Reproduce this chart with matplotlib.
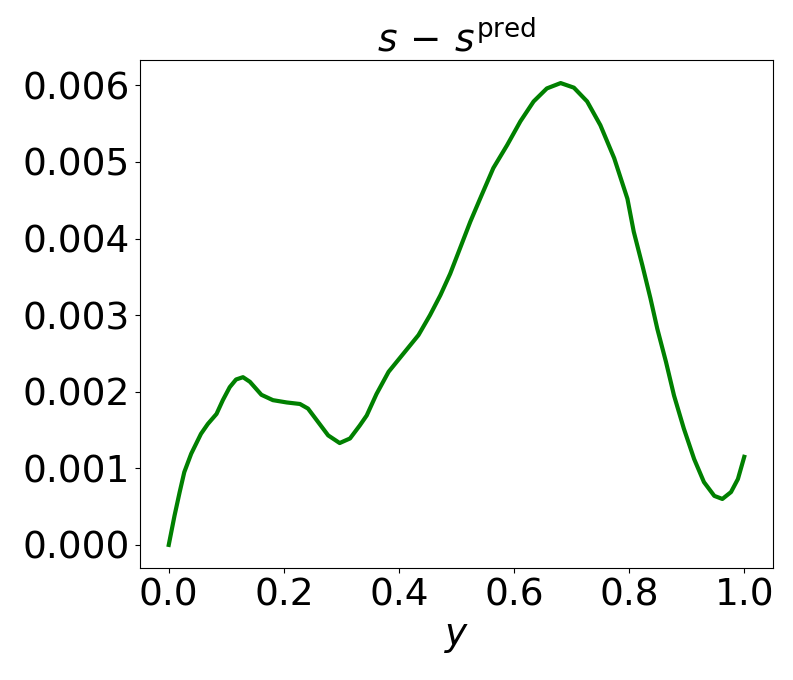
import matplotlib
matplotlib.use("Agg")
import matplotlib.pyplot as plt

y_vals = [0.000, 0.010, 0.019, 0.027, 0.039, 0.056, 0.068, 0.083, 0.094, 0.106,
          0.117, 0.129, 0.141, 0.161, 0.181, 0.205, 0.228, 0.242, 0.260, 0.277,
          0.297, 0.315, 0.332, 0.344, 0.361, 0.382, 0.408, 0.434, 0.454, 0.472,
          0.489, 0.506, 0.524, 0.541, 0.564, 0.588, 0.611, 0.634, 0.657, 0.681,
          0.704, 0.727, 0.750, 0.774, 0.797, 0.808, 0.823, 0.837, 0.849, 0.864,
          0.878, 0.895, 0.913, 0.930, 0.948, 0.962, 0.977, 0.989, 1.000]
diff_vals = [0.00000, 0.00038, 0.00069, 0.00095, 0.00119, 0.00145, 0.00158, 0.00171,
             0.00189, 0.00206, 0.00216, 0.00219, 0.00213, 0.00196, 0.00189, 0.00186,
             0.00184, 0.00178, 0.00160, 0.00143, 0.00133, 0.00139, 0.00156, 0.00169,
             0.00197, 0.00226, 0.00250, 0.00274, 0.00300, 0.00326, 0.00354, 0.00387,
             0.00422, 0.00452, 0.00492, 0.00522, 0.00553, 0.00579, 0.00596, 0.00603,
             0.00597, 0.00579, 0.00548, 0.00505, 0.00452, 0.00409, 0.00365, 0.00322,
             0.00282, 0.00239, 0.00195, 0.00152, 0.00112, 0.00082, 0.00064, 0.00060,
             0.00069, 0.00086, 0.00115]

xticks = [0.0, 0.2, 0.4, 0.6, 0.8, 1.0]
yticks = [0.0, 0.001, 0.002, 0.003, 0.004, 0.005, 0.006]
ytick_labels = ["0.000", "0.001", "0.002", "0.003", "0.004", "0.005", "0.006"]

fig = plt.figure(figsize=(7.93, 6.8), dpi=100)
ax = fig.add_axes([0.1765, 0.1647, 0.7983, 0.7471])
ax.plot(y_vals, diff_vals, color="green", lw=3)
ax.set_title(r"$s\,-\,s^{\mathrm{pred}}$", fontsize=27)
ax.set_xlabel(r"$y$", fontsize=27)
ax.tick_params(labelsize=27)
ax.set_xticks(xticks)
ax.set_yticks(yticks)
ax.set_yticklabels(ytick_labels)
fig.savefig("out.png", dpi=100)
